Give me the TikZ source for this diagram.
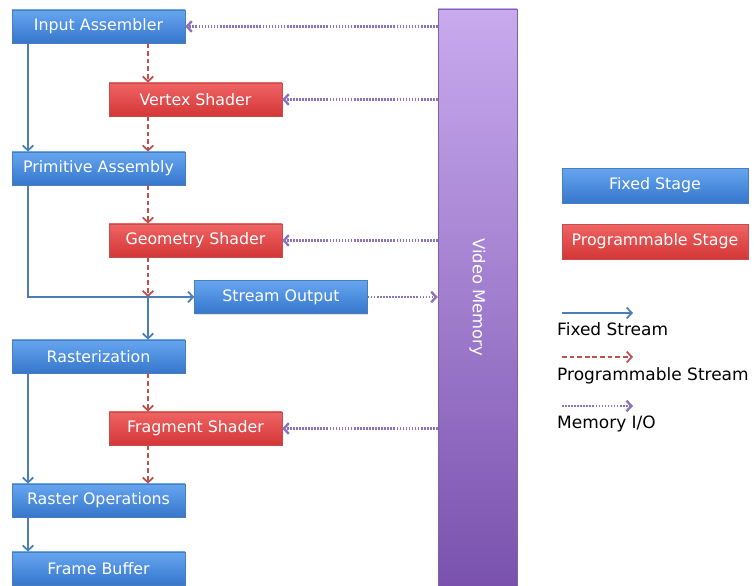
\documentclass[tikz,border=0pt]{standalone}
\usepackage{fontspec}
\setmainfont{DejaVu Sans}
\definecolor{fixedtop}{HTML}{66A6F0}
\definecolor{fixedbot}{HTML}{3676CC}
\definecolor{fixedline}{HTML}{4A7EBB}
\definecolor{progtop}{HTML}{F06464}
\definecolor{progbot}{HTML}{D43636}
\definecolor{progline}{HTML}{C0504D}
\definecolor{memtop}{HTML}{C8AAEE}
\definecolor{membot}{HTML}{7A52AE}
\definecolor{memline}{HTML}{8064A2}
\definecolor{memdots}{HTML}{8A72BC}
\usetikzlibrary{arrows.meta, positioning, shadows}
\tikzset{
	stagenode/.style={
			rectangle,
			minimum width=5.19cm,
			minimum height=1cm,
			inner sep=0pt,
			text=white,
			font=\fontsize{13.5}{15}\selectfont,
			drop shadow={opacity=0.25, shadow xshift=0.5pt, shadow yshift=-1pt}
		},
	fixednode/.style={
			stagenode,
			draw=fixedline,
			top color=fixedtop,
			bottom color=fixedbot
		},
	prognode/.style={
			stagenode,
			draw=progline,
			top color=progtop,
			bottom color=progbot
		},
	memnode/.style={
			rectangle,
			draw=memline,
			top color=memtop,
			bottom color=membot,
			minimum width=2.37cm,
			minimum height=17.31cm,
			text=white,
			font=\fontsize{14}{16}\selectfont
		},
	legendtext/.style={
			inner sep=0pt,
			text=black,
			font=\fontsize{14.5}{16}\selectfont
		},
	fixedstream/.style={
			draw=fixedline,
			line width=1.5pt
		},
	progstream/.style={
			draw=progline,
			line width=1.5pt,
			dash pattern=on 4pt off 2.5pt
		},
	memstream/.style={
			draw=memdots,
			line width=2pt,
			dash pattern=on 1.4pt off 1.2pt
		}
}

\begin{document}
\begin{tikzpicture}[>={Straight Barb[length=1.5mm,width=3.2mm]}]
\useasboundingbox (0,0) rectangle (22.62,-17.58);

\coordinate (fixcol) at (0.84,0);
\coordinate (progcol) at (4.44,0);

\node[fixednode] (tIA) at (2.955,-0.795) {Input Assembler};
\node[prognode] (tVS) at (5.865,-2.985) {Vertex Shader};
\node[fixednode] (tPA) at (2.955,-5.055) {Primitive Assembly};
\node[prognode] (tGS) at (5.865,-7.215) {Geometry Shader};
\node[fixednode] (tSO) at (8.43,-8.91) {Stream Output};
\node[fixednode] (tRA) at (2.955,-10.695) {Rasterization};
\node[prognode] (tFS) at (5.865,-12.855) {Fragment Shader};
\node[fixednode] (tRO) at (2.955,-15.015) {Raster Operations};
\node[fixednode] (tFB) at (2.955,-17.055) {Frame Buffer};

\node[memnode] (tVM) at (14.325,-8.925) {};
\node[text=white, font=\fontsize{14}{16}\selectfont, rotate=-90] (tVMtxt) at (tVM.center) {Video Memory};

\node[fixednode, minimum width=5.58cm, minimum height=1.05cm] (tLF) at (19.65,-5.565) {Fixed Stage};
\node[prognode, minimum width=5.58cm, minimum height=1.05cm] (tLP) at (19.65,-7.245) {Programmable Stage};

\coordinate (split) at (tSO.west -| progcol);

\draw[fixedstream, ->] (tIA.south -| fixcol) -- (tPA.north -| fixcol);
\draw[fixedstream, ->] (tPA.south -| fixcol) |- (tSO.west);
\draw[fixedstream, ->] (split) -- (tRA.north -| progcol);
\draw[fixedstream, ->] (tRA.south -| fixcol) -- (tRO.north -| fixcol);
\draw[fixedstream, ->] (tRO.south -| fixcol) -- (tFB.north -| fixcol);

\draw[progstream, ->] (tIA.south -| progcol) -- (tVS.north -| progcol);
\draw[progstream, ->] (tVS.south -| progcol) -- (tPA.north -| progcol);
\draw[progstream, ->] (tPA.south -| progcol) -- (tGS.north -| progcol);
\draw[progstream, ->] (tGS.south -| progcol) -- (split);
\draw[progstream, ->] (tRA.south -| progcol) -- (tFS.north -| progcol);
\draw[progstream, ->] (tFS.south -| progcol) -- (tRO.north -| progcol);

\draw[memstream, ->] (tIA.east -| tVM.west) -- (tIA.east);
\draw[memstream, ->] (tVS.east -| tVM.west) -- (tVS.east);
\draw[memstream, ->] (tGS.east -| tVM.west) -- (tGS.east);
\draw[memstream, ->] (tFS.east -| tVM.west) -- (tFS.east);
\draw[memstream, ->] (tSO.east) -- (tSO.east -| tVM.west);

\node[legendtext, anchor=west] (tLFS) at (16.71,-9.88) {Fixed Stream};
\node[legendtext, anchor=west] (tLPS) at (16.71,-11.27) {Programmable Stream};
\node[legendtext, anchor=west] (tLMIO) at (16.71,-12.72) {Memory I/O};

\coordinate (fsA) at (16.86,-9.39);
\coordinate (fsB) at (18.99,-9.39);
\coordinate (psA) at (16.86,-10.71);
\coordinate (psB) at (18.99,-10.71);
\coordinate (msA) at (16.86,-12.18);
\coordinate (msB) at (18.99,-12.18);
\draw[fixedstream, ->] (fsA) -- (fsB);
\draw[progstream, ->] (psA) -- (psB);
\draw[memstream, ->] (msA) -- (msB);

\end{tikzpicture}
\end{document}
